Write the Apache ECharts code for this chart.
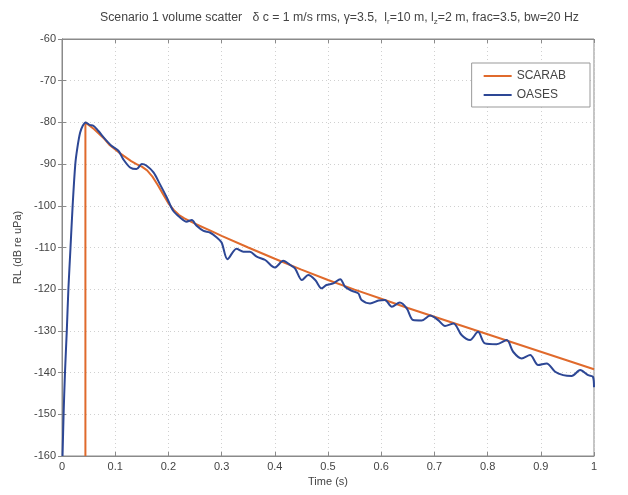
<!DOCTYPE html>
<html><head><meta charset="utf-8">
<script src="https://cdn.jsdelivr.net/npm/echarts@6/dist/echarts.min.js"></script>
<style>html,body{margin:0;padding:0;background:#fff}#c{width:628px;height:495px}</style>
</head><body><div id="c"></div>
<script>
const xTicks = [0,0.1,0.2,0.3,0.4,0.5,0.6,0.7,0.8,0.9,1];
const yTicks = [-160,-150,-140,-130,-120,-110,-100,-90,-80,-70,-60];

const scarabT = [0.044,0.044,0.05,0.06,0.07,0.08,0.09,0.10,0.11,0.12,0.13,0.14,0.15,0.16,0.17,0.18,0.19,0.20,0.21,0.22,0.23,0.25,0.28,0.30,0.35,0.40,0.45,0.50,0.55,0.60,0.65,0.70,0.75,0.80,0.85,0.90,0.95,1.00];
const scarabV = [-160,-80,-80.6,-81.6,-82.8,-84,-85.5,-86.5,-87.5,-88.4,-89.3,-90,-90.6,-91.5,-93,-95,-97.2,-99.4,-101,-102.2,-103,-104.3,-106,-107.2,-110,-112.7,-115.3,-117.8,-120.1,-122.3,-124.5,-126.6,-128.7,-130.8,-132.9,-135,-137.1,-139.2];

const oasesT = [0.001,0.003,0.0056,0.009,0.012,0.016,0.020,0.025,0.029,0.034,0.039,0.0445,0.052,0.059,0.068,0.081,0.093,0.106,0.115,0.128,0.140,0.150,0.159,0.172,0.184,0.197,0.209,0.222,0.234,0.244,0.253,0.266,0.278,0.291,0.300,0.311,0.328,0.341,0.353,0.366,0.382,0.400,0.416,0.429,0.438,0.451,0.463,0.476,0.488,0.497,0.510,0.523,0.532,0.545,0.557,0.563,0.579,0.595,0.607,0.620,0.635,0.648,0.660,0.676,0.692,0.707,0.720,0.736,0.751,0.767,0.782,0.795,0.817,0.836,0.848,0.864,0.880,0.895,0.911,0.927,0.942,0.958,0.974,0.989,0.998,1.000];
const oasesV = [-160,-150,-140,-130,-120,-110,-100,-90,-86,-82.5,-80.8,-80,-80.6,-80.8,-82,-84,-85.6,-86.8,-88.8,-90.8,-91.2,-90,-90.4,-92,-94.8,-98,-101.2,-102.8,-103.8,-103.4,-104.8,-106,-106.4,-107.6,-108.8,-112.8,-110.3,-111,-111,-112.2,-113,-114.8,-113.2,-114.2,-115,-117.8,-116.6,-117.8,-119.8,-119,-118.6,-117.6,-119.4,-120.4,-121,-122.6,-123.4,-122.7,-122.6,-124.2,-123.2,-124.6,-127.4,-127.5,-126.3,-127.4,-128.8,-128.2,-131,-132.2,-130.2,-133,-133.2,-132.2,-135,-136.6,-135.8,-138.2,-137.8,-139.8,-140.6,-140.8,-139.4,-140.6,-141,-143.5];

const FONT = 'Liberation Sans';
const chart = echarts.init(document.getElementById('c'));
const zip = (a,b) => a.map((v,i)=>[v,b[i]]);
const gridLine = {show:true, lineStyle:{color:'#d0d0d0', type:[1,3], width:1}};
const axisLine = {show:true, lineStyle:{color:'#8a8a8a', width:1}};
chart.setOption({
  animation:false,
  backgroundColor:'#fff',
  title:{
    text:'Scenario 1 volume scatter   δ c = 1 m/s rms, γ=3.5,  l{s|r}=10 m, l{s|z}=2 m, frac=3.5, bw=20 Hz',
    left:95, top:4,
    textStyle:{fontFamily:FONT, fontSize:12.3, fontWeight:'normal', color:'#444',
      rich:{s:{fontFamily:FONT, fontSize:8, color:'#444', padding:[9,0,0,0], verticalAlign:'bottom'}}}
  },
  legend:{
    orient:'vertical', right:38, top:63,
    backgroundColor:'#fff', borderColor:'#999', borderWidth:1, borderRadius:0,
    padding:[7,24,6,12], itemGap:7, itemWidth:28, itemHeight:2, icon:'rect',
    textStyle:{fontFamily:FONT, fontSize:12, color:'#444'},
    data:['SCARAB','OASES']
  },
  grid:{left:62, right:34, top:39, bottom:39, show:true, borderColor:'#8a8a8a', borderWidth:1},
  xAxis:[{
    type:'value', min:xTicks[0], max:xTicks[xTicks.length-1], interval:0.1,
    name:'Time (s)', nameLocation:'middle', nameGap:17,
    nameTextStyle:{fontFamily:FONT, fontSize:11, color:'#444'},
    axisLine:axisLine, axisTick:{show:true, inside:true, length:4, lineStyle:{color:'#8a8a8a'}},
    axisLabel:{fontFamily:FONT, fontSize:11, color:'#444', margin:5, formatter:v=>String(+v.toFixed(1))},
    splitLine:gridLine
  },{
    type:'value', position:'top', min:xTicks[0], max:xTicks[xTicks.length-1], interval:0.1,
    axisLine:axisLine, axisTick:{show:true, inside:true, length:4, lineStyle:{color:'#8a8a8a'}},
    axisLabel:{show:false}, splitLine:{show:false}
  }],
  yAxis:[{
    type:'value', min:yTicks[0], max:yTicks[yTicks.length-1], interval:10,
    name:'RL (dB re uPa)', nameLocation:'middle', nameGap:36, nameRotate:90,
    nameTextStyle:{fontFamily:FONT, fontSize:11, color:'#444'},
    axisLine:axisLine, axisTick:{show:true, inside:true, length:4, lineStyle:{color:'#8a8a8a'}},
    axisLabel:{fontFamily:FONT, fontSize:11, color:'#444', margin:6},
    splitLine:gridLine
  },{
    type:'value', position:'right', min:yTicks[0], max:yTicks[yTicks.length-1], interval:10,
    axisLine:axisLine, axisTick:{show:true, inside:true, length:4, lineStyle:{color:'#8a8a8a'}},
    axisLabel:{show:false}, splitLine:{show:false}
  }],
  series:[
    {name:'SCARAB', type:'line', data:zip(scarabT,scarabV), symbol:'none', color:'#e06a2c',
     lineStyle:{width:2, color:'#e06a2c'}, z:3},
    {name:'OASES', type:'line', data:zip(oasesT,oasesV), symbol:'none', smooth:0.3, color:'#2d4795',
     lineStyle:{width:2, color:'#2d4795'}, z:4}
  ]
});
</script></body></html>
